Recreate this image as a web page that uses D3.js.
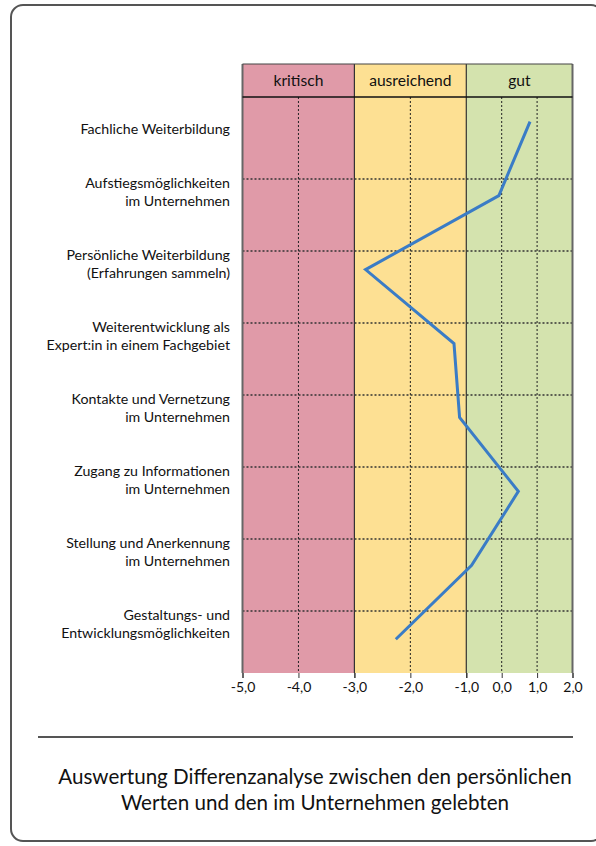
<!DOCTYPE html>
<html>
<head>
<meta charset="utf-8">
<script src="https://cdn.jsdelivr.net/npm/d3@7"></script>
<style>
  body { margin: 0; background: #fff; }
  svg { display: block; font-family: Lato, sans-serif; }
</style>
</head>
<body>
<div id="chart"></div>
<script>
// categories top to bottom, each label split into its lines
const categories = [
  'Fachliche Weiterbildung',
  'Aufstiegsmöglichkeiten im Unternehmen',
  'Persönliche Weiterbildung (Erfahrungen sammeln)',
  'Weiterentwicklung als Expert:in in einem Fachgebiet',
  'Kontakte und Vernetzung im Unternehmen',
  'Zugang zu Informationen im Unternehmen',
  'Stellung und Anerkennung im Unternehmen',
  'Gestaltungs- und Entwicklungsmöglichkeiten'
];
const labelLines = [
  ['Fachliche Weiterbildung'],
  ['Aufstiegsmöglichkeiten', 'im Unternehmen'],
  ['Persönliche Weiterbildung', '(Erfahrungen sammeln)'],
  ['Weiterentwicklung als', 'Expert:in in einem Fachgebiet'],
  ['Kontakte und Vernetzung', 'im Unternehmen'],
  ['Zugang zu Informationen', 'im Unternehmen'],
  ['Stellung und Anerkennung', 'im Unternehmen'],
  ['Gestaltungs- und', 'Entwicklungsmöglichkeiten']
];
const values = [0.8, -0.08, -2.8, -1.22, -1.12, 0.47, -0.85, -2.26];

const zones = [
  {name: 'kritisch', from: -5, to: -3, color: '#e09aa8'},
  {name: 'ausreichend', from: -3, to: -1, color: '#fde093'},
  {name: 'gut', from: -1, to: 2, color: '#d4e3ae'}
];
const tickValues = [-5, -4, -3, -2, -1, 0, 1, 2];
const dottedTicks = [-4, -2, 0, 1];
const captionLines = [
  'Auswertung Differenzanalyse zwischen den persönlichen',
  'Werten und den im Unternehmen gelebten'
];

const width = 596, height = 846;
const plotTop = 97, plotBottom = 673, headerTop = 64;

const svg = d3.select('#chart').append('svg')
  .attr('width', width)
  .attr('height', height);

// outer frame
svg.append('rect')
  .attr('x', 11).attr('y', 5)
  .attr('width', 592).attr('height', 836)
  .attr('rx', 12)
  .style('fill', 'none')
  .style('stroke', '#555')
  .style('stroke-width', 2);

// the "gut" part of the axis is squeezed, so x is piecewise linear
const x = d3.scaleLinear().domain([-5, -1, 2]).range([242.5, 466.3, 572.5]);
const yGrid = d3.scalePoint().domain(categories).range([107, 611]);
const yLine = d3.scalePoint().domain(categories).range([121.7, 639.3]);

// zone backgrounds incl. header
svg.selectAll('rect.zone')
  .data(zones)
  .enter()
  .append('rect')
  .attr('class', 'zone')
  .attr('x', d => x(d.from))
  .attr('y', headerTop)
  .attr('width', d => x(d.to) - x(d.from))
  .attr('height', plotBottom - headerTop)
  .style('fill', d => d.color);

// header names
svg.selectAll('text.zone')
  .data(zones)
  .enter()
  .append('text')
  .attr('class', 'zone')
  .attr('x', d => (x(d.from) + x(d.to)) / 2)
  .attr('y', (headerTop + plotTop) / 2)
  .attr('dy', '0.35em')
  .attr('text-anchor', 'middle')
  .style('font-size', '15.6px')
  .style('fill', '#111')
  .text(d => d.name);

// vertical dotted grid lines
svg.selectAll('line.vgrid')
  .data(dottedTicks)
  .enter()
  .append('line')
  .attr('class', 'vgrid')
  .attr('x1', d => x(d)).attr('x2', d => x(d))
  .attr('y1', plotTop).attr('y2', plotBottom)
  .style('stroke', '#222')
  .style('stroke-width', 1)
  .style('stroke-dasharray', '2,2');

// horizontal dotted grid lines (not above the first row)
svg.selectAll('line.hgrid')
  .data(categories.slice(1))
  .enter()
  .append('line')
  .attr('class', 'hgrid')
  .attr('x1', x(-5)).attr('x2', x(2))
  .attr('y1', d => yGrid(d)).attr('y2', d => yGrid(d))
  .style('stroke', '#333')
  .style('stroke-width', 1.3)
  .style('stroke-dasharray', '2,2');

// zone borders
svg.selectAll('line.border')
  .data([-3, -1])
  .enter()
  .append('line')
  .attr('class', 'border')
  .attr('x1', d => x(d)).attr('x2', d => x(d))
  .attr('y1', headerTop).attr('y2', plotBottom)
  .style('stroke', '#333')
  .style('stroke-width', 1.2);

svg.selectAll('line.edge')
  .data([-5, 2])
  .enter()
  .append('line')
  .attr('class', 'edge')
  .attr('x1', d => x(d)).attr('x2', d => x(d))
  .attr('y1', headerTop).attr('y2', plotBottom)
  .style('stroke', '#666')
  .style('stroke-width', 2);

svg.append('line')
  .attr('x1', x(-5)).attr('x2', x(2))
  .attr('y1', headerTop).attr('y2', headerTop)
  .style('stroke', '#444')
  .style('stroke-width', 1.2);

svg.append('line')
  .attr('x1', x(-5)).attr('x2', x(2))
  .attr('y1', plotTop).attr('y2', plotTop)
  .style('stroke', '#111')
  .style('stroke-width', 1.5);

// x axis
const xAxis = d3.axisBottom(x)
  .tickValues(tickValues)
  .tickSize(5)
  .tickFormat(d => d3.format('.1f')(d).replace('.', ',').replace('\u2212', '-'));

const gx = svg.append('g')
  .attr('class', 'x axis')
  .attr('transform', `translate(0,${plotBottom})`)
  .call(xAxis);
gx.select('.domain').remove();
gx.selectAll('.tick line')
  .style('stroke', '#333')
  .style('stroke-width', d => dottedTicks.includes(d) ? 1 : 1.5);
gx.selectAll('.tick text')
  .attr('y', 9)
  .style('font-family', 'Lato, sans-serif')
  .style('font-size', '14px')
  .style('fill', '#111');

// category labels, bottom aligned to grid row + 22
const labels = svg.selectAll('text.cat')
  .data(categories)
  .enter()
  .append('text')
  .attr('class', 'cat')
  .attr('text-anchor', 'end')
  .style('font-size', '14.2px')
  .style('fill', '#111');

labels.each(function (d, i) {
  const lines = labelLines[i];
  d3.select(this).selectAll('tspan')
    .data(lines)
    .enter()
    .append('tspan')
    .attr('x', 230)
    .attr('y', (l, j) => yGrid(d) + 22 - (lines.length - 1 - j) * 18)
    .attr('dy', '0.35em')
    .text(l => l);
});

// the value line
const valueline = d3.line()
  .x(d => x(d.value))
  .y(d => yLine(d.category));

svg.append('path')
  .attr('class', 'line')
  .datum(categories.map((c, i) => ({category: c, value: values[i]})))
  .attr('d', valueline)
  .style('fill', 'none')
  .style('stroke', '#3a7cc6')
  .style('stroke-width', 3);

// separator + caption
svg.append('line')
  .attr('x1', 38).attr('x2', 573)
  .attr('y1', 737).attr('y2', 737)
  .style('stroke', '#555')
  .style('stroke-width', 2);

svg.selectAll('text.caption')
  .data(captionLines)
  .enter()
  .append('text')
  .attr('class', 'caption')
  .attr('x', 315)
  .attr('y', (d, i) => 777 + i * 26)
  .attr('dy', '0.35em')
  .attr('text-anchor', 'middle')
  .style('font-size', '20.6px')
  .style('fill', '#111')
  .text(d => d);
</script>
</body>
</html>
